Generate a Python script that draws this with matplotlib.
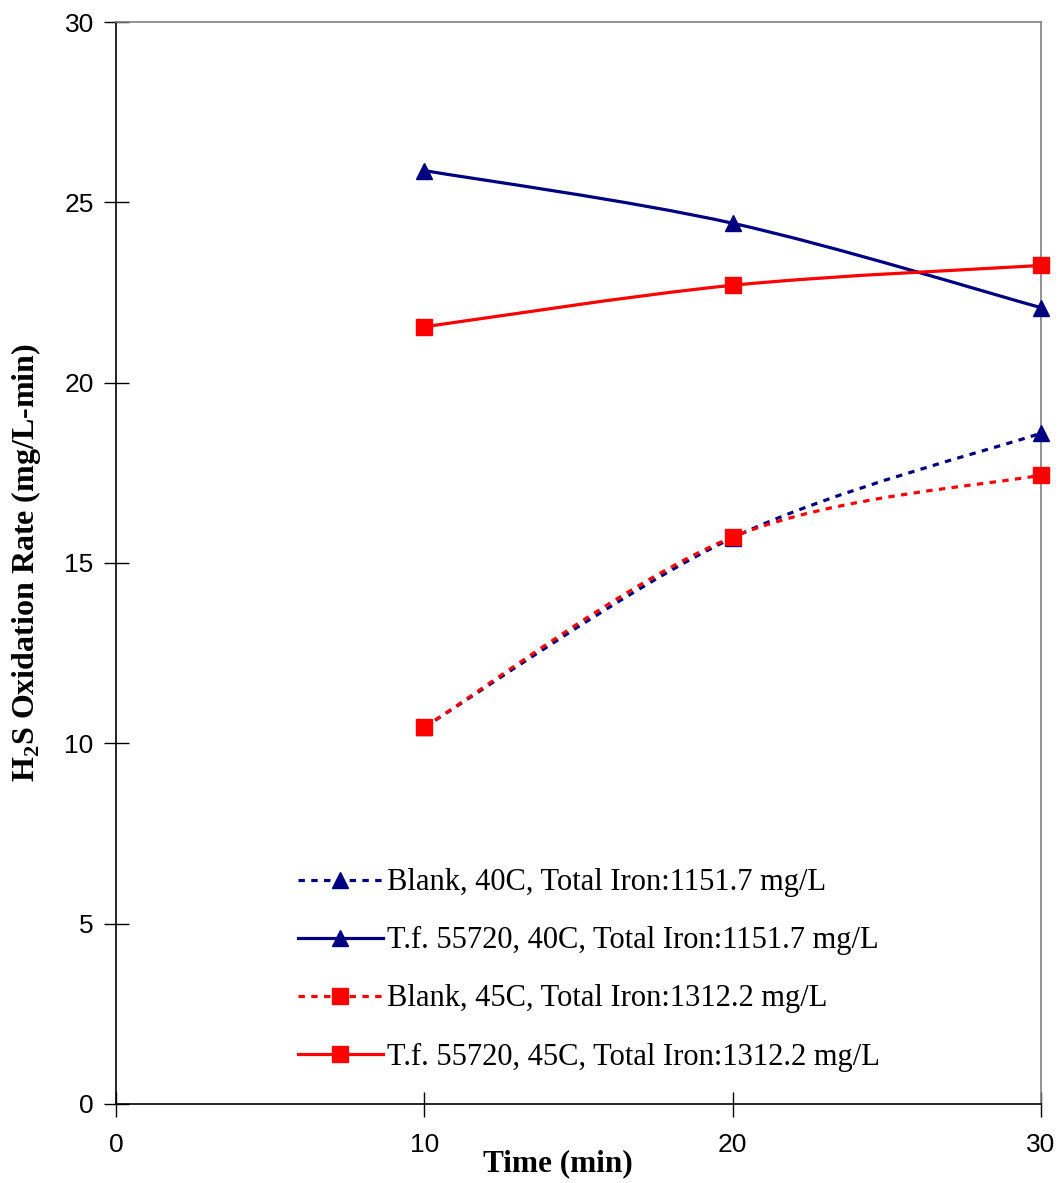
import matplotlib
matplotlib.use("Agg")
import matplotlib.pyplot as plt
from matplotlib.path import Path
from matplotlib.patches import PathPatch
import numpy as np

# data
time_min = [10, 20, 30]
blank_40c = [10.45, 15.70, 18.60]
tf_40c = [25.88, 24.42, 22.08]
blank_45c = [10.45, 15.72, 17.44]
tf_45c = [21.55, 22.70, 23.25]

labels = [
    "Blank, 40C, Total Iron:1151.7 mg/L",
    "T.f. 55720, 40C, Total Iron:1151.7 mg/L",
    "Blank, 45C, Total Iron:1312.2 mg/L",
    "T.f. 55720, 45C, Total Iron:1312.2 mg/L",
]

plt.rcParams['mathtext.fontset'] = 'custom'
plt.rcParams['mathtext.rm'] = 'Liberation Serif'
plt.rcParams['mathtext.bf'] = 'Liberation Serif:bold'


def smooth_path(x, y):
    """Excel-style smoothed line as cubic bezier segments"""
    pts = np.column_stack([x, y]).astype(float)
    n = len(pts)
    verts = [pts[0]]
    codes = [Path.MOVETO]
    for i in range(n - 1):
        p0 = pts[max(i - 1, 0)]
        p1 = pts[i]
        p2 = pts[i + 1]
        p3 = pts[min(i + 2, n - 1)]
        c1 = p1 + (p2 - p0) / 6.0
        c2 = p2 - (p3 - p1) / 6.0
        verts += [c1, c2, p2]
        codes += [Path.CURVE4] * 3
    return Path(verts, codes)


fig = plt.figure(figsize=(10.59, 11.83), dpi=100)
ax = fig.add_axes([0.1095, 0.0668, 0.8735, 0.9146])

series = [
    (blank_40c, '#000080', (0, (2, 2)), '^', 12),
    (tf_40c, '#000080', '-', '^', 12),
    (blank_45c, '#FF0000', (0, (2, 2)), 's', 11),
    (tf_45c, '#FF0000', '-', 's', 11),
]

for (vals, col, ls, mk, ms), lab in zip(series, labels):
    patch = PathPatch(smooth_path(time_min, vals), facecolor='none',
                      edgecolor=col, linestyle=ls, linewidth=2.3, zorder=2)
    ax.add_patch(patch)
    ax.plot(time_min, vals, linestyle='none', marker=mk, markersize=ms,
            color=col, zorder=3, clip_on=False)
    # legend proxy
    ax.plot([], [], linestyle=ls, linewidth=2.3, marker=mk, markersize=ms,
            color=col, label=lab)

ax.set_xlim(0, 30)
ax.set_ylim(0, 30)
ax.set_xticks([0, 10, 20, 30])
ax.set_yticks([0, 5, 10, 15, 20, 25, 30])

for s in ['top', 'right']:
    ax.spines[s].set_color('#808080')
    ax.spines[s].set_linewidth(1.2)
for s in ['left', 'bottom']:
    ax.spines[s].set_color('black')
    ax.spines[s].set_linewidth(1.2)

ax.tick_params(axis='both', direction='inout', length=18, width=1,
               labelsize=19)
ax.tick_params(axis='y', pad=7)
ax.tick_params(axis='x', pad=12)
for t in ax.get_xticklabels() + ax.get_yticklabels():
    t.set_fontfamily('Liberation Sans')

ax.set_xlabel("Time (min)", fontfamily='Liberation Serif', fontweight='bold',
              fontsize=22.5)
ax.xaxis.set_label_coords(0.478, -0.042)
ax.set_ylabel(r"H$_{\mathbf{2}}$S Oxidation Rate (mg/L-min)",
              fontfamily='Liberation Serif', fontweight='bold', fontsize=23)
ax.yaxis.set_label_coords(-0.079, 0.5)

ax.legend(loc='lower left', bbox_to_anchor=(0.1965, 0.03), frameon=False,
          prop={'family': 'Liberation Serif', 'size': 22},
          handlelength=2.78, handletextpad=0.15, labelspacing=0.95,
          borderpad=0, borderaxespad=0)

fig.savefig("out.png", dpi=100)
